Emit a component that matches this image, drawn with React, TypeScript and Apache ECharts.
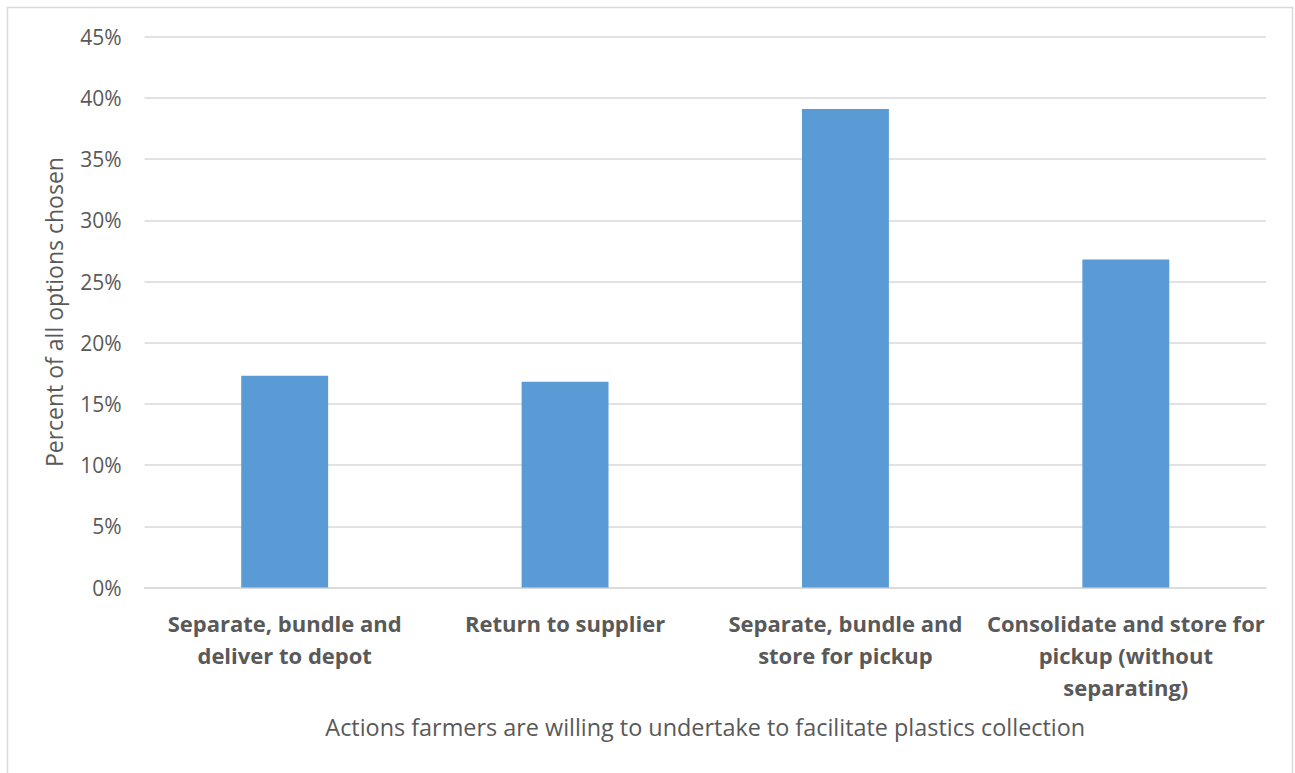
import React, { useEffect, useRef } from "react";
import * as echarts from "echarts";

// Share of all chosen options, per action (percent)
const categories: string[] = [
  "Separate, bundle and\ndeliver to depot",
  "Return to supplier",
  "Separate, bundle and\nstore for pickup",
  "Consolidate and store for\npickup (without\nseparating)",
];
const shares: number[] = [17.3, 16.8, 39.1, 26.8];
const yTicks: number[] = [0, 5, 10, 15, 20, 25, 30, 35, 40, 45];

const xTitle = "Actions farmers are willing to undertake to facilitate plastics collection";
const yTitle = "Percent of all options chosen";

const FONT = "'Open Sans', sans-serif";
const TEXT = "#595959";
const GRID = "#d9d9d9";

export default function App() {
  const ref = useRef<HTMLDivElement>(null);

  useEffect(() => {
    if (!ref.current) return;
    const chart = echarts.init(ref.current, undefined, { renderer: "svg" });
    chart.setOption({
      animation: false,
      backgroundColor: "#ffffff",
      textStyle: { fontFamily: FONT },
      graphic: [
        {
          type: "rect",
          shape: { x: 7.5, y: 7.5, width: 1285, height: 800 },
          style: { fill: "none", stroke: GRID, lineWidth: 1.5 },
          silent: true,
        },
      ],
      grid: { left: 144.5, right: 29, top: 36.7, bottom: 185.5, containLabel: false },
      xAxis: {
        type: "category",
        data: categories,
        name: xTitle,
        nameLocation: "middle",
        nameGap: 128,
        nameTextStyle: { color: TEXT, fontSize: 23.4, fontFamily: FONT },
        axisLine: { show: true, lineStyle: { color: GRID, width: 1.5 } },
        axisTick: { show: false },
        axisLabel: {
          color: TEXT,
          fontSize: 22,
          fontWeight: "bold",
          fontFamily: FONT,
          lineHeight: 32,
          margin: 19,
          interval: 0,
        },
      },
      yAxis: {
        type: "value",
        min: 0,
        max: 45,
        interval: 5,
        name: yTitle,
        nameLocation: "middle",
        nameGap: 79,
        nameTextStyle: { color: TEXT, fontSize: 23, fontFamily: FONT },
        axisLine: { show: false },
        axisTick: { show: false },
        splitLine: { lineStyle: { color: GRID, width: 1.5 } },
        axisLabel: {
          color: TEXT,
          fontSize: 21,
          fontFamily: FONT,
          margin: 23,
          formatter: (v: number) => (yTicks.includes(v) ? `${v}%` : ""),
        },
      },
      series: [
        {
          type: "bar",
          data: shares,
          barWidth: "31%",
          itemStyle: { color: "#5b9bd5" },
          silent: true,
        },
      ],
    });
    return () => chart.dispose();
  }, []);

  return (
    <div
      ref={ref}
      style={{ position: "fixed", left: 0, top: 0, width: 1295, height: 773 }}
    />
  );
}
